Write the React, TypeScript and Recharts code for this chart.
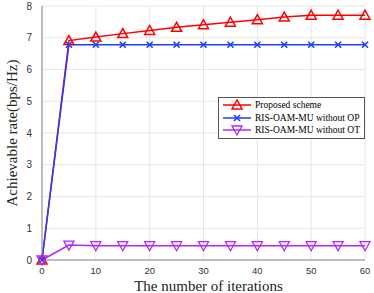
import { LineChart, Line, XAxis, YAxis, CartesianGrid } from 'recharts';

const iterations = [0, 5, 10, 15, 20, 25, 30, 35, 40, 45, 50, 55, 60];
const proposed = [0, 6.91, 7.02, 7.13, 7.23, 7.33, 7.41, 7.49, 7.57, 7.65, 7.71, 7.71, 7.71];
const withoutOP = [0, 6.78, 6.78, 6.78, 6.78, 6.78, 6.78, 6.78, 6.78, 6.78, 6.78, 6.78, 6.78];
const withoutOT = [0, 0.47, 0.45, 0.45, 0.45, 0.45, 0.45, 0.45, 0.45, 0.45, 0.45, 0.45, 0.45];
const xTicks = [0, 10, 20, 30, 40, 50, 60];
const yTicks = [0, 1, 2, 3, 4, 5, 6, 7, 8];

const data = iterations.map((it, i) => ({
  it,
  proposed: proposed[i],
  withoutOP: withoutOP[i],
  withoutOT: withoutOT[i],
}));

const RED = '#ff0000';
const BLUE = '#1f3fff';
const PURPLE = '#b026ff';

const series = [
  { key: 'proposed', name: 'Proposed scheme', color: RED, marker: 'up' },
  { key: 'withoutOP', name: 'RIS-OAM-MU without OP', color: BLUE, marker: 'x' },
  { key: 'withoutOT', name: 'RIS-OAM-MU without OT', color: PURPLE, marker: 'down' },
];

function Marker({ cx, cy, type, color }: { cx: number; cy: number; type: string; color: string }) {
  if (type === 'up') {
    return (
      <polygon
        points={`${cx},${cy - 5} ${cx - 5},${cy + 4} ${cx + 5},${cy + 4}`}
        fill="none"
        stroke={color}
        strokeWidth={1.5}
      />
    );
  }
  if (type === 'down') {
    return (
      <polygon
        points={`${cx},${cy + 5} ${cx - 5},${cy - 4} ${cx + 5},${cy - 4}`}
        fill="none"
        stroke={color}
        strokeWidth={1.3}
      />
    );
  }
  return (
    <path
      d={`M${cx - 3},${cy - 3}L${cx + 3},${cy + 3}M${cx - 3},${cy + 3}L${cx + 3},${cy - 3}`}
      stroke={color}
      strokeWidth={1.6}
    />
  );
}

function makeDot(type: string, color: string) {
  return (props: any) => {
    const { cx, cy, index } = props;
    if (cx == null || cy == null) return <g key={index} />;
    return (
      <g key={index}>
        <Marker cx={cx} cy={cy} type={type} color={color} />
      </g>
    );
  };
}

function LegendBox() {
  return (
    <div
      style={{
        position: 'absolute',
        left: 218,
        top: 97,
        border: '1px solid #555',
        background: '#fff',
        padding: '1px 4px 1px 3px',
        fontFamily: '"Liberation Serif", "DejaVu Serif", serif',
        fontSize: 9.5,
        color: '#000',
        lineHeight: '12.5px',
      }}
    >
      {series.map((s) => (
        <div key={s.key} style={{ display: 'flex', alignItems: 'center', whiteSpace: 'nowrap' }}>
          <svg width={30} height={12} style={{ marginRight: 3 }}>
            <line x1={1} y1={6} x2={29} y2={6} stroke={s.color} strokeWidth={1.5} />
            <Marker cx={15} cy={6} type={s.marker} color={s.color} />
          </svg>
          <span>{s.name}</span>
        </div>
      ))}
    </div>
  );
}

export default function App() {
  return (
    <div style={{ position: 'absolute', left: 0, top: 0, width: 374, height: 293, background: '#fff' }}>
      <LineChart width={374} height={293} data={data} margin={{ top: 6, right: 9, left: 0, bottom: 0 }}>
        <CartesianGrid stroke="#e6e6e6" strokeWidth={1} />
        <XAxis
          dataKey="it"
          type="number"
          domain={[0, 60]}
          ticks={xTicks}
          tickLine={false}
          axisLine={{ stroke: '#888', strokeWidth: 1 }}
          tick={{ fill: '#333', fontSize: 9.5, fontFamily: '"Liberation Sans", Arial, sans-serif' }}
          tickMargin={1}
          height={33}
          label={{
            value: 'The number of iterations',
            position: 'insideBottom',
            offset: 2,
            dx: 5,
            fill: '#222',
            fontSize: 15,
            fontFamily: '"Liberation Serif", "DejaVu Serif", serif',
          }}
        />
        <YAxis
          type="number"
          domain={[0, 8]}
          ticks={yTicks}
          tickLine={false}
          axisLine={{ stroke: '#888', strokeWidth: 1 }}
          tick={{ fill: '#333', fontSize: 10, fontFamily: '"Liberation Sans", Arial, sans-serif' }}
          tickMargin={4}
          width={42}
          label={{
            value: 'Achievable rate(bps/Hz)',
            angle: -90,
            position: 'insideLeft',
            offset: 12,
            style: { textAnchor: 'middle' },
            fill: '#222',
            fontSize: 15,
            fontFamily: '"Liberation Serif", "DejaVu Serif", serif',
          }}
        />
        <XAxis xAxisId="top" orientation="top" dataKey="it" type="number" domain={[0, 60]} tick={false} tickLine={false} height={0} axisLine={{ stroke: '#888' }} />
        <YAxis yAxisId="right" orientation="right" domain={[0, 8]} tick={false} tickLine={false} width={0} axisLine={{ stroke: '#888' }} />
        {series.map((s) => (
          <Line
            key={s.key}
            dataKey={s.key}
            name={s.name}
            stroke={s.color}
            strokeWidth={1.5}
            type="linear"
            dot={makeDot(s.marker, s.color)}
            isAnimationActive={false}
          />
        ))}
      </LineChart>
      <LegendBox />
    </div>
  );
}
